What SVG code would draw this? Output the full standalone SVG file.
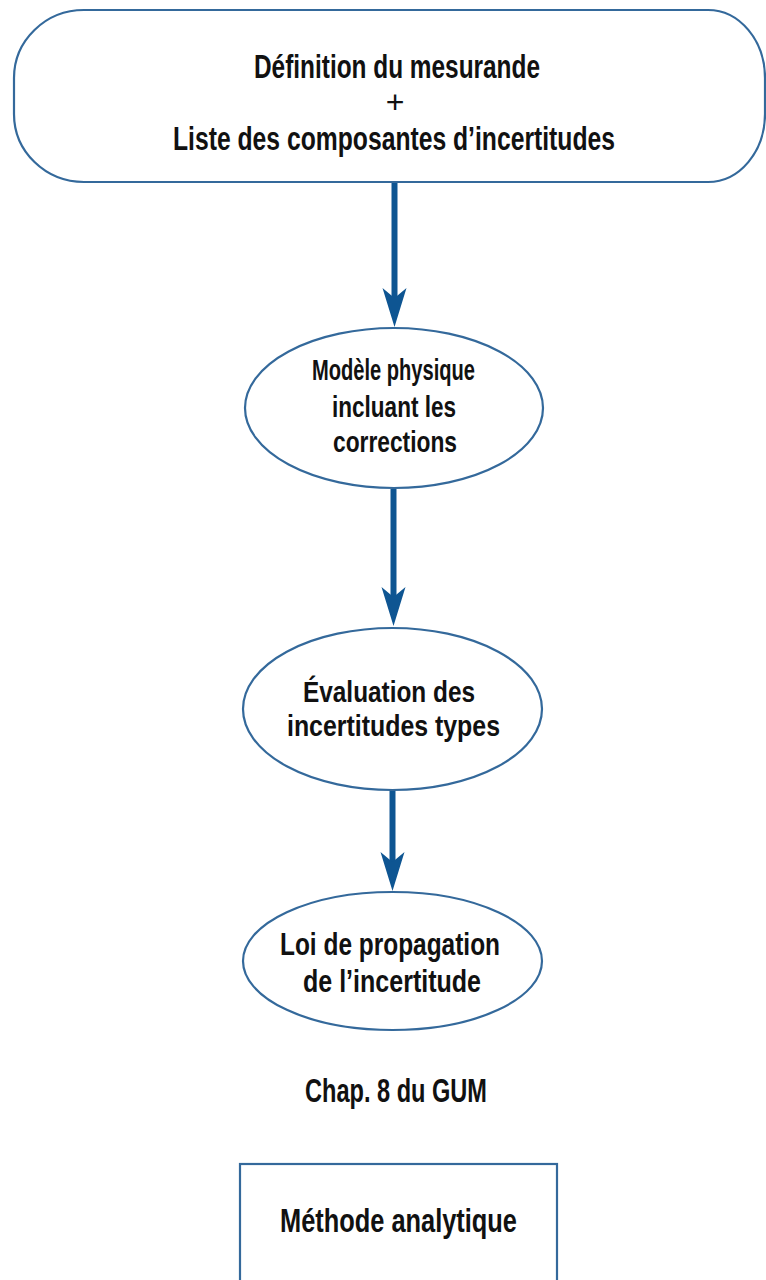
<svg xmlns="http://www.w3.org/2000/svg" width="766" height="1280" viewBox="0 0 766 1280">
<style>
  .shape { fill: #ffffff; stroke: #34699b; stroke-width: 2.2; }
  .conn { stroke: #0e5592; stroke-width: 6; fill: none; }
  .head { fill: #0e5592; stroke: none; }
  text { font-family: "Liberation Sans Narrow", "Liberation Sans", Arial, sans-serif; font-weight: bold; fill: #111111; text-anchor: middle; }
  text.plain { font-weight: normal; }
  .t33 { font-size: 33px; }
  .t32 { font-size: 32px; }
  .t30 { font-size: 30px; }
</style>
<rect x="0" y="0" width="766" height="1280" fill="#ffffff"/>

<g id="connectors">
  <line class="conn" x1="394.5" y1="183" x2="394.5" y2="300"/>
  <polygon class="head" points="394.5,327 382.5,288 394.5,298 406.5,288"/>
  <line class="conn" x1="393.5" y1="489" x2="393.5" y2="598"/>
  <polygon class="head" points="393.5,626 381.5,587 393.5,597 405.5,587"/>
  <line class="conn" x1="392.5" y1="790" x2="392.5" y2="862"/>
  <polygon class="head" points="392.5,891 380.5,852 392.5,862 404.5,852"/>
</g>

<g id="node-definition">
  <path class="shape" d="M 84 10 H 708 A 57 68 0 0 1 765 78 V 114 A 57 68 0 0 1 708 182 H 84 A 70 68 0 0 1 14 114 V 78 A 70 68 0 0 1 84 10 Z"/>
  <text class="t33" x="397" y="78" textLength="286" lengthAdjust="spacingAndGlyphs">Définition du mesurande</text>
  <text class="t32 plain" x="395" y="113">+</text>
  <text class="t33" x="394" y="150" textLength="442" lengthAdjust="spacingAndGlyphs">Liste des composantes d’incertitudes</text>
</g>

<g id="node-modele">
  <ellipse class="shape" cx="394" cy="408" rx="149" ry="80"/>
  <text class="t30" x="393.5" y="380" textLength="163" lengthAdjust="spacingAndGlyphs">Modèle physique</text>
  <text class="t30" x="394" y="417" textLength="124" lengthAdjust="spacingAndGlyphs">incluant les</text>
  <text class="t30" x="395" y="452" textLength="124" lengthAdjust="spacingAndGlyphs">corrections</text>
</g>

<g id="node-evaluation">
  <ellipse class="shape" cx="392.5" cy="709" rx="149.5" ry="81"/>
  <text class="t30" x="389" y="702" textLength="172" lengthAdjust="spacingAndGlyphs">Évaluation des</text>
  <text class="t30" x="393.5" y="736" textLength="213" lengthAdjust="spacingAndGlyphs">incertitudes types</text>
</g>

<g id="node-loi">
  <ellipse class="shape" cx="392.5" cy="961" rx="149.5" ry="69"/>
  <text class="t32" x="390" y="955" textLength="220" lengthAdjust="spacingAndGlyphs">Loi de propagation</text>
  <text class="t32" x="392" y="992" textLength="178" lengthAdjust="spacingAndGlyphs">de l’incertitude</text>
</g>

<g id="label-chap">
  <text class="t33" x="396" y="1102" textLength="182" lengthAdjust="spacingAndGlyphs">Chap. 8 du GUM</text>
</g>

<g id="node-methode">
  <rect class="shape" x="240" y="1164" width="317" height="140"/>
  <text class="t33" x="398.5" y="1232" textLength="237" lengthAdjust="spacingAndGlyphs">Méthode analytique</text>
</g>
</svg>
